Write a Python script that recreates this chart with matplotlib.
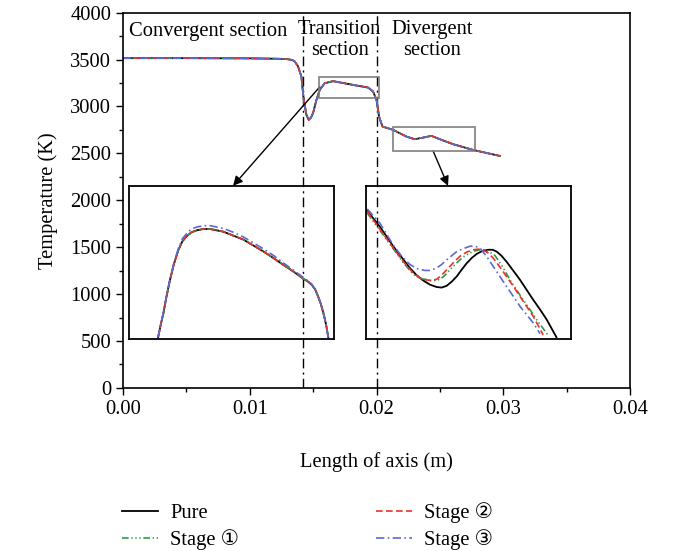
import matplotlib
matplotlib.use("Agg")
import matplotlib.pyplot as plt
from matplotlib.patches import Rectangle
from matplotlib.ticker import MultipleLocator, FormatStrFormatter

plt.rcParams['font.family'] = ['Liberation Serif', 'DejaVu Sans']
plt.rcParams['font.size'] = 14.8

# ---------------- data ----------------
x_main = [0.0, 0.005, 0.010, 0.0125, 0.0129, 0.01335, 0.01355, 0.0138, 0.01407, 0.01426,
          0.01447, 0.01465, 0.01482, 0.01499, 0.01526, 0.01552, 0.01591, 0.01657, 0.01815,
          0.01933, 0.01973, 0.0200, 0.0202, 0.02047, 0.0213, 0.02236, 0.02301, 0.02367,
          0.02433, 0.02499, 0.02604, 0.02761, 0.02972]
T_main = [3515, 3515, 3513, 3508, 3505, 3496, 3479, 3430, 3319, 3070,
          2910, 2857, 2880, 2928, 3070, 3177, 3248, 3270, 3230,
          3202, 3159, 3070, 2892, 2786, 2751, 2679, 2651, 2668,
          2687, 2651, 2598, 2537, 2473]

# inset 1 (transition section detail)
ins1_x = [0.01614, 0.01620, 0.01626, 0.01633, 0.01641, 0.01650, 0.01660, 0.01669,
          0.01679, 0.01690, 0.01702, 0.01717, 0.01733, 0.01748, 0.01763, 0.01786,
          0.01809, 0.01832, 0.01855, 0.01878, 0.01900, 0.01923, 0.01946, 0.01956,
          0.01965, 0.01973, 0.01980, 0.01986, 0.01992, 0.01998, 0.02003]
ins1_pure = [3091, 3110, 3127, 3152, 3177, 3201, 3222, 3235,
             3243, 3249, 3252, 3254, 3254, 3252, 3250, 3244,
             3238, 3229, 3220, 3210, 3200, 3190, 3179, 3175,
             3170, 3163, 3152, 3141, 3127, 3110, 3091]
ins1_stage1 = [3091, 3110, 3127, 3152, 3177, 3201, 3222, 3235,
               3243, 3249, 3252, 3254, 3254, 3252, 3250, 3244,
               3238, 3229, 3220, 3210, 3200, 3190, 3179, 3175,
               3170, 3163, 3152, 3141, 3127, 3110, 3091]
ins1_stage2 = [3091, 3110, 3127, 3152, 3177, 3201, 3222, 3235,
               3243, 3249, 3252, 3254, 3254, 3252, 3250, 3244,
               3238, 3229, 3220, 3210, 3200, 3190, 3179, 3175,
               3170, 3163, 3152, 3141, 3127, 3110, 3091]
ins1_stage3 = [3091, 3110, 3128, 3153, 3178, 3203, 3224, 3239,
               3247, 3254, 3257, 3259, 3259, 3257, 3255, 3249,
               3242, 3233, 3224, 3214, 3203, 3192, 3181, 3176,
               3171, 3163, 3152, 3141, 3127, 3110, 3091]

# inset 2 (divergent section detail)
ins2_x_pure = [0.02134, 0.02174, 0.02216, 0.02243, 0.02269, 0.02290, 0.02311, 0.02332,
               0.02353, 0.02369, 0.02385, 0.02401, 0.02417, 0.02432, 0.02448, 0.02464,
               0.02480, 0.02498, 0.02517, 0.02530, 0.02543, 0.02558, 0.02574, 0.02595,
               0.02617, 0.02638, 0.02659, 0.02680, 0.02701, 0.02732]
ins2_pure = [2744, 2717, 2684, 2665, 2647, 2635, 2626, 2619,
             2615, 2614, 2617, 2624, 2633, 2644, 2655, 2664,
             2671, 2676, 2678, 2678, 2675, 2668, 2658, 2643,
             2627, 2610, 2593, 2577, 2560, 2530]
ins2_x_stage1 = [0.02134, 0.02175, 0.02216, 0.02248, 0.0228, 0.02306, 0.02332, 0.02348,
                 0.02364, 0.0238, 0.02395, 0.02417, 0.02438, 0.02456, 0.02474, 0.0249,
                 0.02506, 0.02522, 0.02538, 0.02562, 0.02585, 0.02606, 0.02627, 0.02648,
                 0.02669, 0.02706]
ins2_stage1 = [2740, 2710, 2680, 2656, 2636, 2629, 2626, 2626,
               2628, 2635, 2644, 2656, 2666, 2672, 2676, 2678,
               2678, 2674, 2668, 2649, 2627, 2610, 2593, 2577,
               2560, 2533]
ins2_x_stage2 = [0.02134, 0.02175, 0.02216, 0.02248, 0.0228, 0.02301, 0.02322, 0.02338,
                 0.02353, 0.02369, 0.02385, 0.02406, 0.02427, 0.02448, 0.02469, 0.02485,
                 0.02501, 0.02517, 0.02532, 0.02553, 0.02574, 0.02596, 0.02617, 0.02638,
                 0.02659, 0.0269]
ins2_stage2 = [2743, 2712, 2681, 2658, 2638, 2630, 2627, 2626,
               2628, 2635, 2644, 2656, 2667, 2674, 2678, 2679,
               2678, 2672, 2664, 2649, 2633, 2616, 2599, 2582,
               2565, 2534]
ins2_x_stage3 = [0.02134, 0.02174, 0.02216, 0.02243, 0.02269, 0.02292, 0.02316, 0.02334,
                 0.02353, 0.02369, 0.02385, 0.02401, 0.02417, 0.02438, 0.02459, 0.02475,
                 0.0249, 0.02511, 0.02532, 0.02553, 0.02574, 0.02596, 0.02617, 0.02638,
                 0.02659, 0.0268]
ins2_stage3 = [2747, 2723, 2686, 2667, 2653, 2646, 2643, 2643,
               2647, 2653, 2661, 2668, 2675, 2680, 2684, 2684,
               2681, 2667, 2650, 2633, 2616, 2599, 2582, 2568,
               2554, 2536]

series_labels = ['Pure', 'Stage \u2460', 'Stage \u2461', 'Stage \u2462']
x_ticks = [0.00, 0.01, 0.02, 0.03, 0.04]
y_ticks = [0, 500, 1000, 1500, 2000, 2500, 3000, 3500, 4000]
section_x = [0.0142, 0.0200]

# ---------------- styles ----------------
styles = [
    dict(color='black', lw=1.3, linestyle='-'),
    dict(color='#2f9a4a', lw=1.2, dashes=(4, 1.6, 0.8, 1.6, 0.8, 1.6, 0.8, 1.6)),
    dict(color='#e8322a', lw=1.2, dashes=(4, 2)),
    dict(color='#5b6ad2', lw=1.2, dashes=(5, 2, 1, 2)),
]

fig = plt.figure(figsize=(6.76, 5.51), dpi=100)
ax = fig.add_axes([0.182, 0.296, 0.750, 0.681])

handles = []
for lab, st in zip(series_labels, styles):
    h, = ax.plot(x_main, T_main, label=lab, **st)
    handles.append(h)

for xs in section_x:
    ax.axvline(xs, color='black', lw=1.0, dashes=(7, 3, 1.5, 3), zorder=1)

ax.set_xlim(0, 0.04)
ax.set_ylim(0, 4000)
ax.set_xticks(x_ticks)
ax.set_yticks(y_ticks)
ax.xaxis.set_major_formatter(FormatStrFormatter('%.2f'))
ax.xaxis.set_minor_locator(MultipleLocator(0.005))
ax.yaxis.set_minor_locator(MultipleLocator(250))
ax.tick_params(which='major', direction='out', length=5, width=1.0, top=False, right=False)
ax.tick_params(which='minor', direction='out', length=3, width=1.0, top=False, right=False)
for sp in ax.spines.values():
    sp.set_linewidth(1.2)
ax.set_xlabel('Length of axis (m)', labelpad=24)
ax.set_ylabel('Temperature (K)', labelpad=9)

# section annotations
ax.text(0.0005, 3800, 'Convergent section', ha='left', va='center')
ax.text(0.0171, 3710, 'Transition\nsection', ha='center', va='center', linespacing=1.15)
ax.text(0.0244, 3710, 'Divergent\nsection', ha='center', va='center', linespacing=1.15)

# zoom rectangles
r1 = (0.01548, 0.02017, 3088, 3319)
r2 = (0.0213, 0.02777, 2527, 2786)
for (x0, x1, y0, y1) in (r1, r2):
    ax.add_patch(Rectangle((x0, y0), x1 - x0, y1 - y0, fill=False,
                           edgecolor='#7f7f7f', lw=1.2, zorder=5))

# arrows
ax.annotate('', xy=(0.00868, 2154), xytext=(0.01552, 3209),
            arrowprops=dict(arrowstyle='-|>', color='black', lw=1.0,
                            mutation_scale=14, shrinkA=0, shrinkB=0))
ax.annotate('', xy=(0.02564, 2154), xytext=(0.02446, 2527),
            arrowprops=dict(arrowstyle='-|>', color='black', lw=1.0,
                            mutation_scale=14, shrinkA=0, shrinkB=0))

# insets
in1 = fig.add_axes([0.1913, 0.3848, 0.3033, 0.2777])
in2 = fig.add_axes([0.5414, 0.3848, 0.3028, 0.2777])
for inax in (in1, in2):
    inax.patch.set_alpha(0)
    inax.set_xticks([])
    inax.set_yticks([])
    for sp in inax.spines.values():
        sp.set_linewidth(1.3)

for ys, st in zip([ins1_pure, ins1_stage1, ins1_stage2, ins1_stage3], styles):
    in1.plot(ins1_x, ys, **st)
in1.set_xlim(r1[0], r1[1])
in1.set_ylim(r1[2], r1[3])

for xs, ys, st in zip([ins2_x_pure, ins2_x_stage1, ins2_x_stage2, ins2_x_stage3],
                      [ins2_pure, ins2_stage1, ins2_stage2, ins2_stage3], styles):
    in2.plot(xs, ys, **st)
in2.set_xlim(r2[0], r2[1])
in2.set_ylim(r2[2], r2[3])

fig.legend(handles=handles, labels=series_labels, ncol=2, frameon=False,
           loc='center', bbox_to_anchor=(0.455, 0.045), handlelength=1.75,
           handletextpad=0.6, columnspacing=6.65, labelspacing=0.28)

fig.savefig('out.png', dpi=100)
